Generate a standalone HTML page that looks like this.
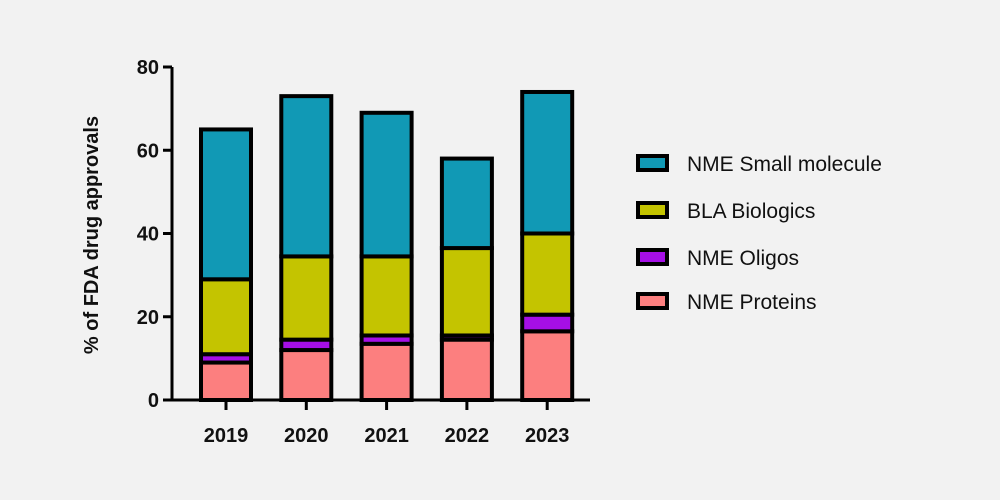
<!DOCTYPE html>
<html><head><meta charset="utf-8"><style>
html,body{margin:0;padding:0;background:#f2f2f2;}
svg{display:block;font-family:"Liberation Sans",Arial,sans-serif;}
</style></head><body>
<svg id="chart" width="1000" height="500">
<rect width="1000" height="500" fill="#f2f2f2"/>
<g id="bars"></g>
<g id="axes"></g>
<text x="98" y="235" transform="rotate(-90 98 235)" text-anchor="middle" font-size="20" font-weight="bold" fill="#111">% of FDA drug approvals</text>
<g id="legend"></g>
</svg>
<script>
const categories = ["2019","2020","2021","2022","2023"];
const proteins = [9, 12, 13.5, 14.5, 16.5];
const oligos = [2, 2.5, 2, 1, 4];
const biologics = [18, 20, 19, 21, 19.5];
const smallMolecule = [36, 38.5, 34.5, 21.5, 34];
const yTicks = [0,20,40,60,80];
const seriesNames = ["NME Small molecule","BLA Biologics","NME Oligos","NME Proteins"];

const NS="http://www.w3.org/2000/svg";
const x0=172, yBase=400, yTop=67, yMax=80;
const y = v => yBase - v/yMax*(yBase-yTop);
const xc = i => 226 + i*80.3;
const bw=50;
const colors={proteins:"#fc7f7f",oligos:"#a50fe6",biologics:"#c4c400",small:"#1199b5"};
function mk(tag,attrs,parent){const e=document.createElementNS(NS,tag);for(const k in attrs)e.setAttribute(k,attrs[k]);parent.appendChild(e);return e;}
const bars=document.getElementById('bars');
const series=[[proteins,colors.proteins,'proteins'],[oligos,colors.oligos,'oligos'],[biologics,colors.biologics,'biologics'],[smallMolecule,colors.small,'small-molecule']];
categories.forEach((c,i)=>{
  let acc=0;
  series.forEach(([arr,col,nm])=>{
    const a=acc,b=acc+arr[i];acc=b;
    const r=mk('rect',{x:xc(i)-bw/2,y:y(b),width:bw,height:y(a)-y(b),fill:col,stroke:'#000','stroke-width':4},bars);
    
    
  });
});
const ax=document.getElementById('axes');
let l=mk('line',{x1:x0,y1:yTop,x2:x0,y2:yBase+1.5,stroke:'#000','stroke-width':3},ax);

l=mk('line',{x1:x0-1.5,y1:yBase,x2:590,y2:yBase,stroke:'#000','stroke-width':3},ax);

yTicks.forEach(t=>{
  const tl=mk('line',{x1:x0-9,y1:y(t),x2:x0,y2:y(t),stroke:'#000','stroke-width':3},ax);
  
  const tx=mk('text',{x:x0-13,y:y(t)+7,'text-anchor':'end','font-size':20,'font-weight':'bold',fill:'#111'},ax);
  tx.textContent=t;
  
});
categories.forEach((c,i)=>{
  const tl=mk('line',{x1:xc(i),y1:yBase,x2:xc(i),y2:yBase+10,stroke:'#000','stroke-width':3},ax);
  
  const tx=mk('text',{x:xc(i),y:yBase+42,'text-anchor':'middle','font-size':20,'font-weight':'bold',fill:'#111'},ax);
  tx.textContent=c;
  
});
const lg=document.getElementById('legend');
const lcols=[colors.small,colors.biologics,colors.oligos,colors.proteins];
const ly=[163,210,257,301];
seriesNames.forEach((n,i)=>{
  const r=mk('rect',{x:638,y:ly[i]-7,width:29,height:14,fill:lcols[i],stroke:'#000','stroke-width':4},lg);
  
  const t=mk('text',{x:687,y:ly[i]+8,'font-size':21,fill:'#111'},lg);
  t.textContent=n;
  
});
</script>
</body></html>
